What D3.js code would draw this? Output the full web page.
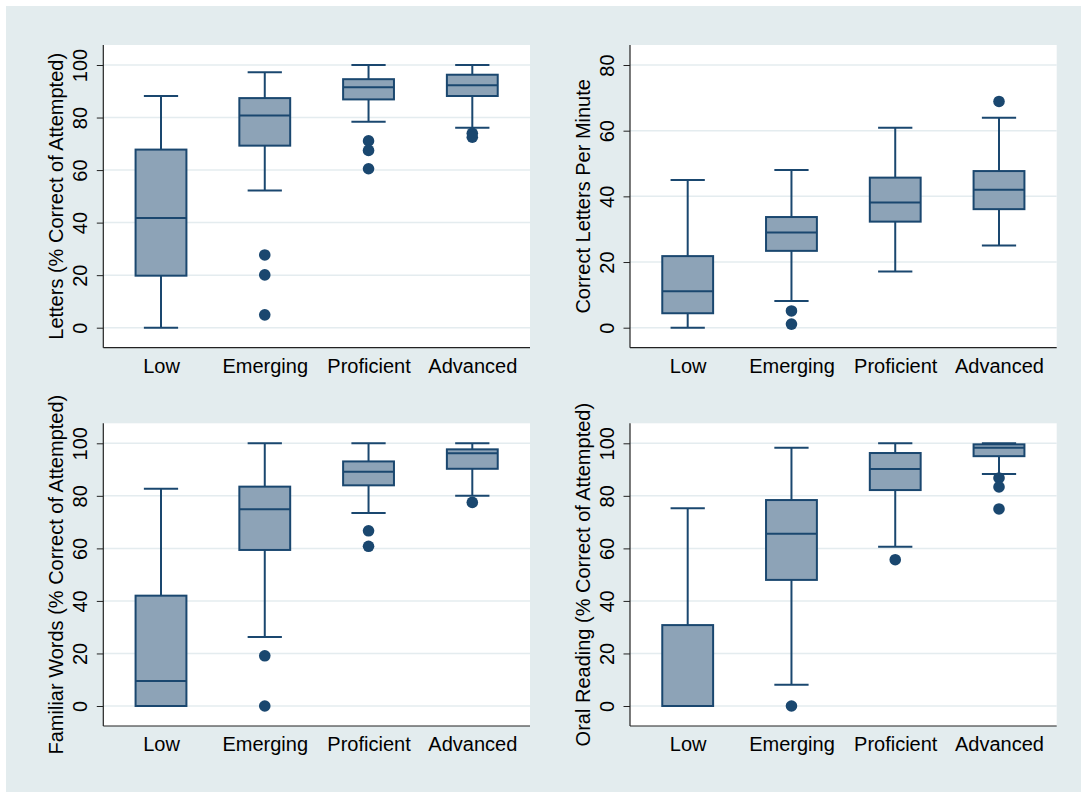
<!DOCTYPE html>
<html>
<head>
<meta charset="utf-8">
<script src="https://cdn.jsdelivr.net/npm/d3@7/dist/d3.min.js"></script>
<style>
  html, body { margin: 0; padding: 0; background: #ffffff; }
  svg { display: block; }
  text { font-family: "Liberation Sans", Arial, Helvetica, sans-serif; fill: #000; }
</style>
</head>
<body>
<svg id="chart" width="1081" height="792"></svg>
<script>
// Reading benchmark levels on the x axis of every panel
const levels = ["Low", "Emerging", "Proficient", "Advanced"];

// Box statistics per level: [lower whisker, Q1, median, Q3, upper whisker]
const lettersStats = [
  [0, 19.8, 41.8, 67.8, 88.2],
  [52.2, 69.3, 80.8, 87.4, 97.2],
  [78.4, 86.9, 91.5, 94.6, 100],
  [76.1, 88.2, 92.3, 96.3, 100]
];
const lettersOutliers = [[], [27.7, 20.1, 4.9], [71.1, 67.5, 60.5], [74.0, 72.5]];

const clpmStats = [
  [0, 4.4, 11.1, 21.8, 45.0],
  [8.1, 23.4, 29.0, 33.7, 48.0],
  [17.1, 32.3, 38.1, 45.7, 60.9],
  [25.0, 36.1, 42.0, 47.7, 63.9]
];
const clpmOutliers = [[], [5.1, 1.1], [], [68.9]];

const wordsStats = [
  [0, 0, 9.5, 42.0, 82.7],
  [26.3, 59.4, 74.9, 83.5, 100],
  [73.5, 84.0, 89.2, 93.1, 100],
  [80.0, 90.3, 96.2, 97.7, 100]
];
const wordsOutliers = [[], [19.1, 0], [66.7, 60.8], [77.5]];

const oralStats = [
  [0, 0, 0, 30.8, 75.3],
  [8.1, 48.0, 65.6, 78.4, 98.3],
  [60.6, 82.2, 90.2, 96.3, 100],
  [88.3, 95.1, 98.3, 99.6, 100]
];
const oralOutliers = [[], [0], [55.7], [86.8, 83.4, 75.0]];

// Axis ticks
const pctTicks = [0, 20, 40, 60, 80, 100];
const rateTicks = [0, 20, 40, 60, 80];

// Y-axis titles
const titles = [
  "Letters (% Correct of Attempted)",
  "Correct Letters Per Minute",
  "Familiar Words (% Correct of Attempted)",
  "Oral Reading (% Correct of Attempted)"
];

const NAVY = "#1a476f";
const BOX_FILL = "#8da3b7";
const BG = "#e3ecee";
const GRID = "#e4ecef";

const svg = d3.select("#chart");

// Graph region background with a thin white margin on the top and left
svg.append("rect").attr("width", 1081).attr("height", 792).attr("fill", "#ffffff");
svg.append("rect").attr("x", 6).attr("y", 6).attr("width", 1075).attr("height", 786).attr("fill", BG);

const plotW = 426.7, plotH = 302.7, pad = 20;

const panels = [
  { x: 103.3, y: 45,    stats: lettersStats, outliers: lettersOutliers, ticks: pctTicks,  title: titles[0] },
  { x: 630,   y: 45,    stats: clpmStats,    outliers: clpmOutliers,    ticks: rateTicks, title: titles[1] },
  { x: 103.3, y: 423.3, stats: wordsStats,   outliers: wordsOutliers,   ticks: pctTicks,  title: titles[2] },
  { x: 630,   y: 423.3, stats: oralStats,    outliers: oralOutliers,    ticks: pctTicks,  title: titles[3] }
];

panels.forEach(p => {
  const g = svg.append("g").attr("transform", `translate(${p.x},${p.y})`);

  // plot region
  g.append("rect").attr("width", plotW).attr("height", plotH).attr("fill", "#ffffff");

  const y = d3.scaleLinear()
    .domain([0, d3.max(p.ticks)])
    .range([plotH - pad, pad]);

  const x = d3.scalePoint()
    .domain(levels)
    .range([0, plotW])
    .padding(0.556);

  const boxW = x.step() * 0.49;
  const capW = x.step() * 0.33;

  // horizontal gridlines
  g.append("g").selectAll("line")
    .data(p.ticks)
    .join("line")
    .attr("x1", 0).attr("x2", plotW)
    .attr("y1", d => y(d)).attr("y2", d => y(d))
    .attr("stroke", GRID).attr("stroke-width", 1.5);

  // y axis with rotated tick labels
  const yAxis = g.append("g")
    .call(d3.axisLeft(y).tickValues(p.ticks).tickSize(6.5).tickFormat(d3.format("d")));
  yAxis.select(".domain").remove();
  yAxis.selectAll(".tick line").attr("stroke", "#222").attr("stroke-width", 1);
  yAxis.selectAll(".tick text")
    .attr("transform", "rotate(-90)")
    .attr("x", 0).attr("y", -16.5).attr("dy", 0)
    .attr("text-anchor", "middle")
    .style("font-size", "20px");

  // x axis labels
  const xAxis = g.append("g")
    .attr("transform", `translate(0,${plotH})`)
    .call(d3.axisBottom(x).tickSize(0));
  xAxis.select(".domain").remove();
  xAxis.selectAll(".tick text")
    .attr("y", 25).attr("dy", 0)
    .style("font-size", "20px");

  // axis lines
  g.append("line").attr("x1", 0).attr("x2", 0).attr("y1", 0).attr("y2", plotH)
    .attr("stroke", "#222").attr("stroke-width", 1.2);
  g.append("line").attr("x1", 0).attr("x2", plotW).attr("y1", plotH).attr("y2", plotH)
    .attr("stroke", "#222").attr("stroke-width", 1.2);

  // y-axis title
  g.append("text")
    .attr("transform", `translate(-40,${plotH / 2}) rotate(-90)`)
    .attr("text-anchor", "middle")
    .style("font-size", "20px")
    .text(p.title);

  // boxes
  const boxes = g.append("g").selectAll("g")
    .data(p.stats.map((s, i) => ({ level: levels[i], s, out: p.outliers[i] })))
    .join("g")
    .attr("transform", d => `translate(${x(d.level)},0)`);

  // whiskers
  boxes.append("line")
    .attr("x1", 0).attr("x2", 0)
    .attr("y1", d => y(d.s[4])).attr("y2", d => y(d.s[3]))
    .attr("stroke", NAVY).attr("stroke-width", 2);
  boxes.append("line")
    .attr("x1", 0).attr("x2", 0)
    .attr("y1", d => y(d.s[1])).attr("y2", d => y(d.s[0]))
    .attr("stroke", NAVY).attr("stroke-width", 2);
  // whisker caps
  boxes.append("line")
    .attr("x1", -capW / 2).attr("x2", capW / 2)
    .attr("y1", d => y(d.s[4])).attr("y2", d => y(d.s[4]))
    .attr("stroke", NAVY).attr("stroke-width", 2);
  boxes.append("line")
    .attr("x1", -capW / 2).attr("x2", capW / 2)
    .attr("y1", d => y(d.s[0])).attr("y2", d => y(d.s[0]))
    .attr("stroke", NAVY).attr("stroke-width", 2);
  // interquartile box
  boxes.append("rect")
    .attr("x", -boxW / 2).attr("width", boxW)
    .attr("y", d => y(d.s[3]))
    .attr("height", d => y(d.s[1]) - y(d.s[3]))
    .attr("fill", BOX_FILL)
    .attr("stroke", NAVY).attr("stroke-width", 2);
  // median
  boxes.append("line")
    .attr("x1", -boxW / 2).attr("x2", boxW / 2)
    .attr("y1", d => y(d.s[2])).attr("y2", d => y(d.s[2]))
    .attr("stroke", NAVY).attr("stroke-width", 2);
  // outside values
  boxes.selectAll("circle")
    .data(d => d.out)
    .join("circle")
    .attr("cx", 0)
    .attr("cy", v => y(v))
    .attr("r", 5.8)
    .attr("fill", NAVY);
});
</script>
</body>
</html>
